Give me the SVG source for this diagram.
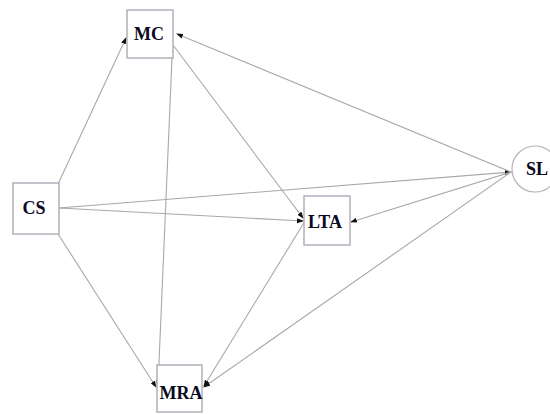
<svg xmlns="http://www.w3.org/2000/svg" width="550" height="414" viewBox="0 0 550 414">
<style>
.box{fill:#fff;stroke:#b4afba;stroke-width:1.5}
.lbl{font-family:"Liberation Serif",serif;font-weight:bold;font-size:18px;fill:#0a0a1e;text-anchor:middle}
.e{stroke:#a8a8a8;stroke-width:1.1;fill:none;marker-end:url(#ah)}
</style>
<defs>
<marker id="ah" markerWidth="7" markerHeight="6" refX="6" refY="3" orient="auto" markerUnits="userSpaceOnUse">
<path d="M0,0.5 L7,3 L0,5.5 Z" fill="#111"/>
</marker>
</defs>
<rect width="550" height="414" fill="#fff"/>
<g id="connectors">
<line class="e" x1="58" y1="184" x2="126" y2="38"/>
<line class="e" x1="58" y1="234" x2="156" y2="387"/>
<line class="e" x1="59" y1="208" x2="303" y2="221"/>
<line class="e" x1="59" y1="208" x2="511" y2="172"/>
<line class="e" x1="511" y1="172" x2="177" y2="34"/>
<line class="e" x1="511" y1="172" x2="351" y2="222"/>
<line class="e" x1="511" y1="172" x2="204" y2="387"/>
<line class="e" x1="173" y1="45" x2="303" y2="218"/>
<line class="e" x1="172" y1="58" x2="158" y2="386"/>
<line class="e" x1="305" y1="221" x2="204" y2="386"/>
</g>
<g id="MC">
<rect class="box" x="127" y="10" width="46" height="48"/>
<text class="lbl" x="149" y="40">MC</text>
</g>
<g id="CS">
<rect class="box" x="13" y="183" width="46" height="51"/>
<text class="lbl" x="34" y="214">CS</text>
</g>
<g id="LTA">
<rect class="box" x="304" y="196" width="46" height="49"/>
<text class="lbl" x="325" y="228">LTA</text>
</g>
<g id="SL">
<circle cx="535" cy="169" r="23" fill="#fff" stroke="#b4afba" stroke-width="1.2"/>
<text class="lbl" x="537" y="175">SL</text>
</g>
<g id="MRA">
<rect class="box" x="157" y="365" width="45" height="47"/>
<text class="lbl" x="181" y="399">MRA</text>
</g>
</svg>
